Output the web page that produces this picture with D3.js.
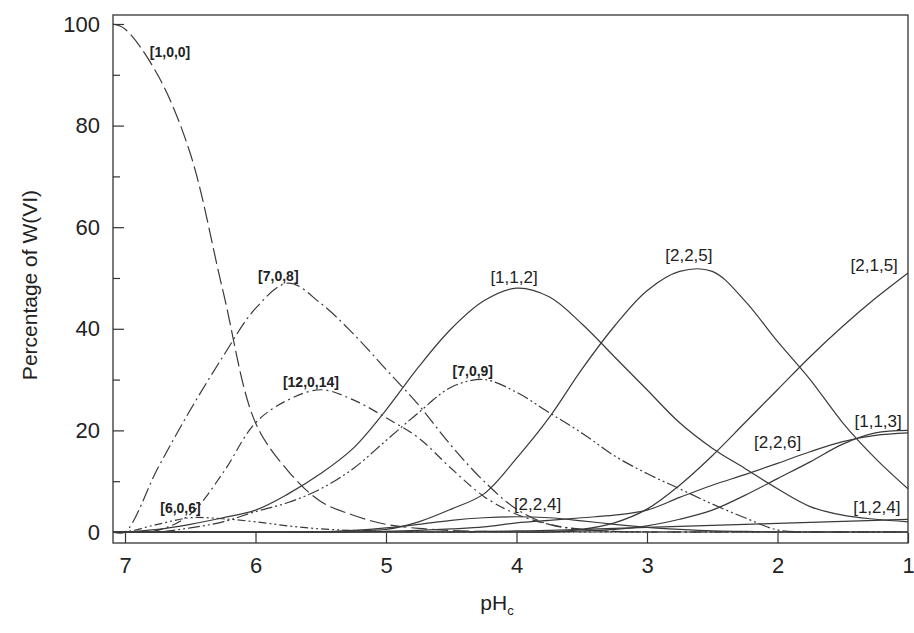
<!DOCTYPE html>
<meta charset="utf-8">
<style>
body { margin: 0; background: #fff; }
text { font-family: "Liberation Sans", Arial, sans-serif; fill: #222; }
.tick text { font-size: 22px; }
.lbl-bold { font-family: "Liberation Sans Narrow", "Arial Narrow", "Liberation Sans", sans-serif; font-weight: bold; font-size: 14px; }
.lbl { font-size: 17px; }
</style>
<svg width="914" height="633"></svg>
<script src="https://d3js.org/d3.v7.min.js"></script>
<script>

// pH grid (first point is the left edge of the frame)
var pH = [7.09, 7.0, 6.75, 6.5, 6.25, 6.0, 5.75, 5.5, 5.25, 5.0, 4.75, 4.5, 4.25,
          4.0, 3.75, 3.5, 3.25, 3.0, 2.75, 2.5, 2.25, 2.0, 1.75, 1.5, 1.25, 1.0];

// percentage of W(VI) for each species
var s100   = [100, 99, 90, 74.5, 47.5, 21.5, 12, 6, 3.3, 1.5, 0.7, 0.3, 0.1, 0, 0, 0, 0, 0, 0, 0, 0, 0, 0, 0, 0, 0];
var s708   = [0, 0, 12.5, 24, 34.5, 44, 49, 45, 39, 32, 25, 17, 10, 4.5, 1.5, 0.5, 0.1, 0, 0, 0, 0, 0, 0, 0, 0, 0];
var s12014 = [0, 0, 0.3, 3.5, 11.6, 21.5, 26, 28, 26, 22.5, 18.5, 12.5, 7, 3.5, 1.5, 0.5, 0.1, 0, 0, 0, 0, 0, 0, 0, 0, 0];
var s606   = [0, 0, 1.5, 2.8, 2.6, 2.0, 1.2, 0.6, 0.3, 0.1, 0, 0, 0, 0, 0, 0, 0, 0, 0, 0, 0, 0, 0, 0, 0, 0];
var s112   = [0, 0, 0.5, 1.5, 2.8, 4.3, 7.5, 11.5, 16.5, 24, 32.5, 40, 45.5, 48, 46.3, 41, 34.5, 28, 21.5, 16.5, 12.5, 8.5, 5, 3.3, 2.5, 2];
var s709   = [0, 0, 0, 0.8, 2, 4, 5.8, 8.5, 12.5, 18, 23.5, 28.5, 30, 27.5, 23.5, 19.5, 15, 11.5, 8.5, 5.5, 2.8, 0.4, 0, 0, 0, 0];
var s225   = [0, 0, 0, 0, 0, 0, 0, 0, 0.2, 0.5, 2, 4.5, 7.5, 14.5, 22.5, 32, 40.5, 47.5, 51.3, 51.3, 45.5, 37.5, 30, 21.5, 14.5, 8.5];
var s215   = [0, 0, 0, 0, 0, 0, 0, 0, 0, 0, 0, 0, 0, 0, 0, 0.5, 1.8, 4.5, 9.2, 15, 21.5, 28, 34.5, 40.5, 46, 51];
var s226   = [0, 0, 0, 0, 0, 0, 0, 0, 0, 0.1, 0.3, 0.6, 1, 1.8, 2.3, 2.8, 3.3, 4.3, 6.8, 9.2, 11.3, 13.5, 15.8, 17.8, 19.0, 19.5];
var s113   = [0, 0, 0, 0, 0, 0, 0, 0, 0, 0, 0, 0, 0, 0, 0, 0.2, 0.5, 1.2, 2.5, 4.3, 7.2, 10.5, 13.8, 17.3, 19.5, 20];
var s224   = [0, 0, 0, 0, 0, 0, 0, 0, 0.3, 0.8, 1.5, 2.3, 2.8, 3, 2.8, 2.2, 1.5, 0.9, 0.5, 0.2, 0.1, 0, 0, 0, 0, 0];
var s124   = [0, 0, 0, 0, 0, 0, 0, 0, 0, 0, 0, 0, 0.1, 0.2, 0.3, 0.5, 0.7, 0.9, 1.1, 1.3, 1.5, 1.7, 1.9, 2.1, 2.3, 2.5];

var names  = ["[1,0,0]", "[7,0,8]", "[12,0,14]", "[6,0,6]", "[1,1,2]", "[7,0,9]",
              "[2,2,5]", "[2,1,5]", "[2,2,6]", "[1,1,3]", "[2,2,4]", "[1,2,4]"];
var values = [s100, s708, s12014, s606, s112, s709, s225, s215, s226, s113, s224, s124];

// where each label sits, in data units (pH, %)
var labelPH  = [6.81, 5.98, 5.79, 6.73, 4.20, 4.49, 2.86, 1.44, 2.18, 1.41, 4.02, 1.42];
var labelPct = [93.5, 49.4, 28.5, 3.7, 49, 30.7, 53.3, 51.4, 16.5, 20.7, 4.3, 3.7];

var yTicks = [0, 20, 40, 60, 80, 100];
var yMinor = [10, 30, 50, 70, 90];
var xTicks = [7, 6, 5, 4, 3, 2, 1];

var dashes = ["16,5", "14,4,2,4", "10,4,2,4", "8,3,2,3,2,3", null, "12,3,2,3,2,3",
              null, null, null, null, null, null];
var boldLabel = [true, true, true, true, false, true, false, false, false, false, false, false];

var svg = d3.select("svg");

// plot frame (pixels)
var fLeft = 113, fRight = 908, fTop = 15, fBottom = 543;

var x = d3.scaleLinear().domain([7.092, 1]).range([fLeft, fRight]);
var y = d3.scaleLinear().domain([-2.17, 101.77]).range([fBottom, fTop]);

// frame
svg.append("rect")
  .attr("x", fLeft).attr("y", fTop)
  .attr("width", fRight - fLeft).attr("height", fBottom - fTop)
  .attr("fill", "none").attr("stroke", "#333").attr("stroke-width", 1.3);

// y axis, ticks point inwards
svg.append("g")
  .attr("transform", "translate(" + fLeft + ",0)")
  .call(d3.axisLeft(y).tickValues(yTicks).tickSize(-11).tickPadding(13));
svg.append("g")
  .attr("transform", "translate(" + fLeft + ",0)")
  .call(d3.axisLeft(y).tickValues(yMinor).tickSize(-7).tickFormat(""));

// x axis
svg.append("g")
  .attr("transform", "translate(0," + fBottom + ")")
  .call(d3.axisBottom(x).tickValues(xTicks).tickSize(-10).tickPadding(14).tickFormat(d3.format("d")));

svg.selectAll(".domain").remove();
svg.selectAll(".tick line").attr("stroke", "#333").attr("stroke-width", 1.2);
svg.selectAll(".tick text").attr("fill", "#222");

// curves
var line = d3.line()
  .x(function(d, i) { return x(pH[i]); })
  .y(function(d) { return y(d); })
  .curve(d3.curveCatmullRom.alpha(0.5));

svg.append("g").selectAll("path")
  .data(values)
  .enter().append("path")
  .attr("d", line)
  .attr("fill", "none")
  .attr("stroke", "#3a3a3a")
  .attr("stroke-width", 1.2)
  .attr("stroke-dasharray", function(d, i) { return dashes[i]; });

// species labels
svg.append("g").selectAll("text")
  .data(names)
  .enter().append("text")
  .attr("class", function(d, i) { return boldLabel[i] ? "lbl-bold" : "lbl"; })
  .attr("x", function(d, i) { return x(labelPH[i]); })
  .attr("y", function(d, i) { return y(labelPct[i]); })
  .text(function(d) { return d; });

// axis titles
var xt = svg.append("text")
  .attr("x", 497).attr("y", 610)
  .attr("text-anchor", "middle")
  .style("font-size", "21px");
xt.append("tspan").text("pH");
xt.append("tspan").attr("dy", 5).style("font-size", "13px").text("c");

svg.append("text")
  .attr("transform", "translate(37,285) rotate(-90)")
  .attr("text-anchor", "middle")
  .style("font-size", "21px")
  .text("Percentage of W(VI)");

</script>
